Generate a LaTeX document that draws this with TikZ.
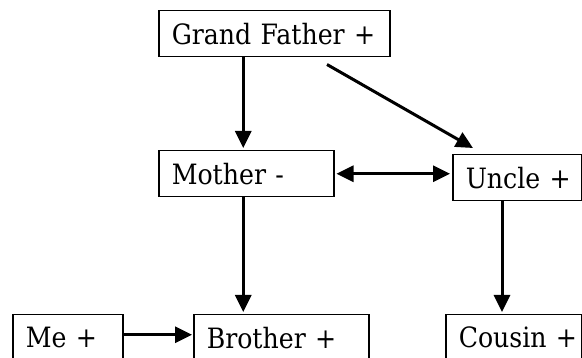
\documentclass[tikz,border=0pt]{standalone}
\usepackage{fontspec}
\setmainfont{DejaVu Serif}[FakeStretch=0.9]
\usetikzlibrary{arrows.meta,calc}
\begin{document}
\begin{tikzpicture}[x=1pt,y=-1pt,
  box/.style={draw, line width=1.5pt, anchor=north west, minimum height=46pt,
    inner xsep=13pt, inner ysep=0pt, align=left, font=\fontsize{28}{32}\selectfont},
  arr/.style={line width=3pt, -{Triangle[length=17pt,width=16pt]}},
  darr/.style={line width=3pt, {Triangle[length=17pt,width=16pt]}-{Triangle[length=17pt,width=16pt]}}]
\useasboundingbox (0,0) rectangle (582,358);
\node[box, text width=205pt] (gf) at (158,10) {\mbox{Grand Father +}};
\node[box, text width=149pt] (m) at (158,150) {\mbox{Mother -}};
\node[box, text width=103pt] (u) at (452,154) {\mbox{Uncle +}};
\node[box, text width=84pt] (me) at (12,314) {\mbox{Me +}};
\node[box, text width=149pt] (b) at (193,314) {\mbox{Brother +}};
\node[box, text width=110pt] (c) at (445,314) {\mbox{Cousin +}};
\coordinate (x1) at ($(m.north)+(-3,0)$);
\coordinate (x2) at ($(u.south west)+(50,0)$);
\coordinate (y1) at ($(me.east)+(0,-3)$);
\coordinate (d1) at ($(gf.south west)+(169,7)$);
\coordinate (d2) at ($(u.north west)+(21,-6)$);
\draw[arr, shorten >=2pt] (x1 |- gf.south) -- (x1);
\draw[arr, shorten >=2pt] (x1 |- m.south) -- (x1 |- b.north);
\draw[arr, shorten >=2pt] (x2) -- (x2 |- c.north);
\draw[arr] (d1) -- (d2);
\draw[darr, shorten <=2pt, shorten >=2pt] (m.east) -- (m.east -| u.west);
\draw[arr, shorten >=1pt] (y1) -- (y1 -| b.west);
\end{tikzpicture}
\end{document}
